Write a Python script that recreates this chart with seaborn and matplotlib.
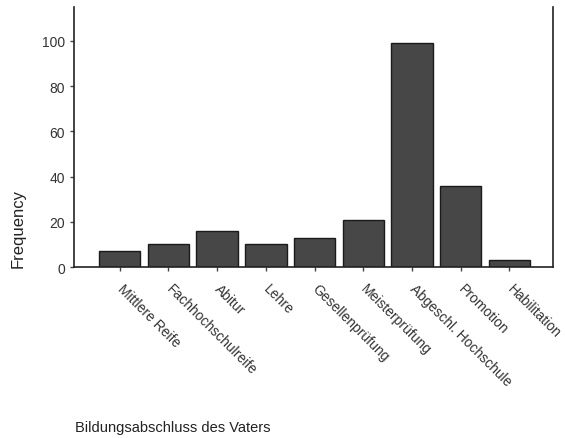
import pandas as pd
import seaborn as sns
import matplotlib.pyplot as plt

categories = ['Mittlere Reife', 'Fachhochschulreife', 'Abitur', 'Lehre', 'Gesellenprüfung',
              'Meisterprüfung', 'Abgeschl. Hochschule', 'Promotion', 'Habilitation']
counts = [7, 10, 16, 10, 13, 21, 99, 36, 3]

df = pd.DataFrame({'Abschluss': categories, 'Frequency': counts})

sns.set_style('white')
plt.rcParams['font.family'] = ['Liberation Sans', 'DejaVu Sans']

fig = plt.figure(figsize=(5.65, 4.39), dpi=100)
ax = fig.add_axes([0.131, 0.3895, 0.848, 0.5925])
sns.barplot(x='Abschluss', y='Frequency', data=df, color='#474747', saturation=1,
            width=0.85, edgecolor='#1a1a1a', linewidth=1, ax=ax)

ax.set_ylim(0, 115)
ax.set_xlim(-0.94, 8.9)
ax.set_yticks([0, 20, 40, 60, 80, 100])
ax.tick_params(axis='both', direction='out', length=3, width=1, color='#444444',
               labelsize=10, labelcolor='#333333', left=True, bottom=True)
ax.set_xticks(range(len(categories)))
ax.set_xticklabels(categories, rotation=-45, ha='left', rotation_mode='anchor')
for lbl in ax.get_xticklabels():
    lbl.set_x(lbl.get_position()[0])
    lbl.set_y(-0.02)
    lbl.set_transform(lbl.get_transform() + plt.matplotlib.transforms.ScaledTranslation(
        0.05, 0, fig.dpi_scale_trans))

for side in ['left', 'bottom', 'right']:
    ax.spines[side].set_visible(True)
    ax.spines[side].set_color('#222222')
    ax.spines[side].set_linewidth(1.2)
ax.spines['top'].set_visible(False)

ax.set_xlabel(None)
ax.set_ylabel('Frequency', fontsize=12, color='#222222', loc='bottom')
ax.yaxis.set_label_coords(-0.1, 0.0)
fig.text(0.133, 0.008, 'Bildungsabschluss des Vaters', fontsize=10.5, color='#222222',
         ha='left', va='bottom')

fig.savefig('out.png', dpi=100)
